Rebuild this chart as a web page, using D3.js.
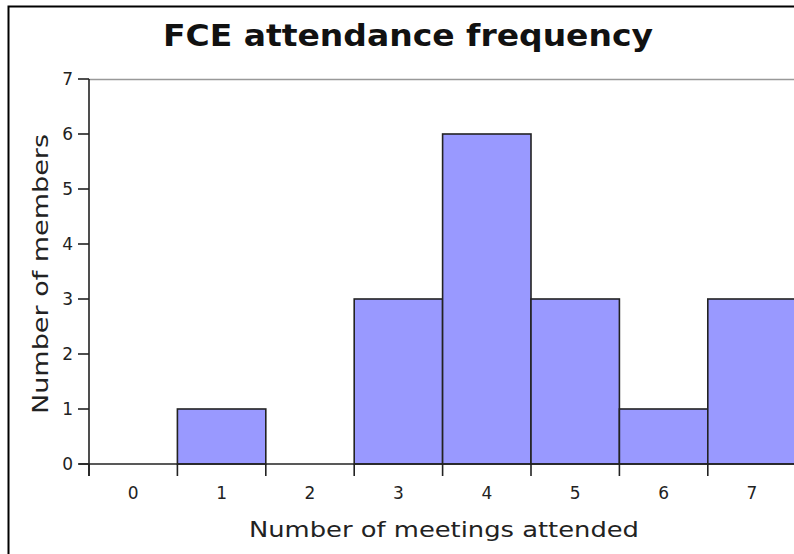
<!DOCTYPE html>
<html>
<head>
<meta charset="utf-8">
<script src="https://cdn.jsdelivr.net/npm/d3@7"></script>
<style>
body{margin:0;background:#fff;}
svg{display:block;}
</style>
</head>
<body>
<svg id="chart" width="794" height="554"></svg>
<script>
// histogram data
const meetings = [0,1,2,3,4,5,6,7];
const members  = [0,1,0,3,6,3,1,3];
const yTicks   = [0,1,2,3,4,5,6,7];

const svg = d3.select("#chart");
const plotLeft = 89, plotTop = 79, plotBottom = 464;

// outer frame (cut off at right/bottom)
svg.append("rect")
	.attr("x",8.5).attr("y",6.5)
	.attr("width",900).attr("height",700)
	.attr("fill","none").attr("stroke","#000").attr("stroke-width",2);

let x = d3.scaleLinear().domain([-0.5,7.5]).range([plotLeft, plotLeft + 8*88.4]);
let y = d3.scaleLinear().domain([0,7]).range([plotBottom, plotTop]);

// plot top border
svg.append("line")
	.attr("x1",plotLeft).attr("x2",800)
	.attr("y1",plotTop+0.5).attr("y2",plotTop+0.5)
	.attr("stroke","#999").attr("stroke-width",1.5);

// bars
svg.append("g")
	.selectAll("rect")
	.data(meetings.map((m,i)=>({m:m, n:members[i]})).filter(d=>d.n>0))
	.join("rect")
	.attr("x", d=>x(d.m-0.5))
	.attr("y", d=>y(d.n))
	.attr("width", d=>x(d.m+0.5)-x(d.m-0.5))
	.attr("height", d=>y(0)-y(d.n))
	.attr("fill","#9999ff")
	.attr("stroke","#222").attr("stroke-width",1.6);

// x axis: ticks at bin edges, labels at bin centres
let gx = svg.append("g").attr("transform",`translate(0,${plotBottom})`);
gx.append("line").attr("x1",plotLeft-10).attr("x2",800)
	.attr("stroke","#222").attr("stroke-width",1.6);
gx.selectAll(".edge")
	.data(meetings)
	.join("line")
	.attr("class","edge")
	.attr("x1",d=>x(d-0.5)).attr("x2",d=>x(d-0.5))
	.attr("y1",0).attr("y2",12)
	.attr("stroke","#222").attr("stroke-width",1.6);
gx.selectAll("text")
	.data(meetings)
	.join("text")
	.attr("x",d=>x(d)).attr("y",35)
	.attr("text-anchor","middle")
	.attr("font-family","DejaVu Sans").attr("font-size",17)
	.attr("fill","#222")
	.text(d=>d);

// y axis
let gy = svg.append("g").attr("transform",`translate(${plotLeft},0)`);
gy.append("line").attr("y1",plotTop).attr("y2",plotBottom+12)
	.attr("stroke","#222").attr("stroke-width",1.6);
gy.selectAll(".tk")
	.data(yTicks)
	.join("line")
	.attr("class","tk")
	.attr("x1",-11).attr("x2",0)
	.attr("y1",d=>y(d)).attr("y2",d=>y(d))
	.attr("stroke","#222").attr("stroke-width",1.6);
gy.selectAll("text")
	.data(yTicks)
	.join("text")
	.attr("x",-16).attr("y",d=>y(d)+6)
	.attr("text-anchor","end")
	.attr("font-family","DejaVu Sans").attr("font-size",17)
	.attr("fill","#222")
	.text(d=>d);

// titles
svg.append("text")
	.attr("x",408).attr("y",46)
	.attr("text-anchor","middle")
	.attr("font-family","DejaVu Sans").attr("font-weight","bold").attr("font-size",30)
	.attr("textLength",490).attr("lengthAdjust","spacingAndGlyphs")
	.attr("fill","#111")
	.text("FCE attendance frequency");

svg.append("text")
	.attr("x",444).attr("y",537)
	.attr("text-anchor","middle")
	.attr("font-family","DejaVu Sans").attr("font-size",22)
	.attr("textLength",390).attr("lengthAdjust","spacingAndGlyphs")
	.attr("fill","#222")
	.text("Number of meetings attended");

svg.append("text")
	.attr("transform","translate(48,274) rotate(-90)")
	.attr("text-anchor","middle")
	.attr("font-family","DejaVu Sans").attr("font-size",22)
	.attr("textLength",280).attr("lengthAdjust","spacingAndGlyphs")
	.attr("fill","#222")
	.text("Number of members");
</script>
</body>
</html>
